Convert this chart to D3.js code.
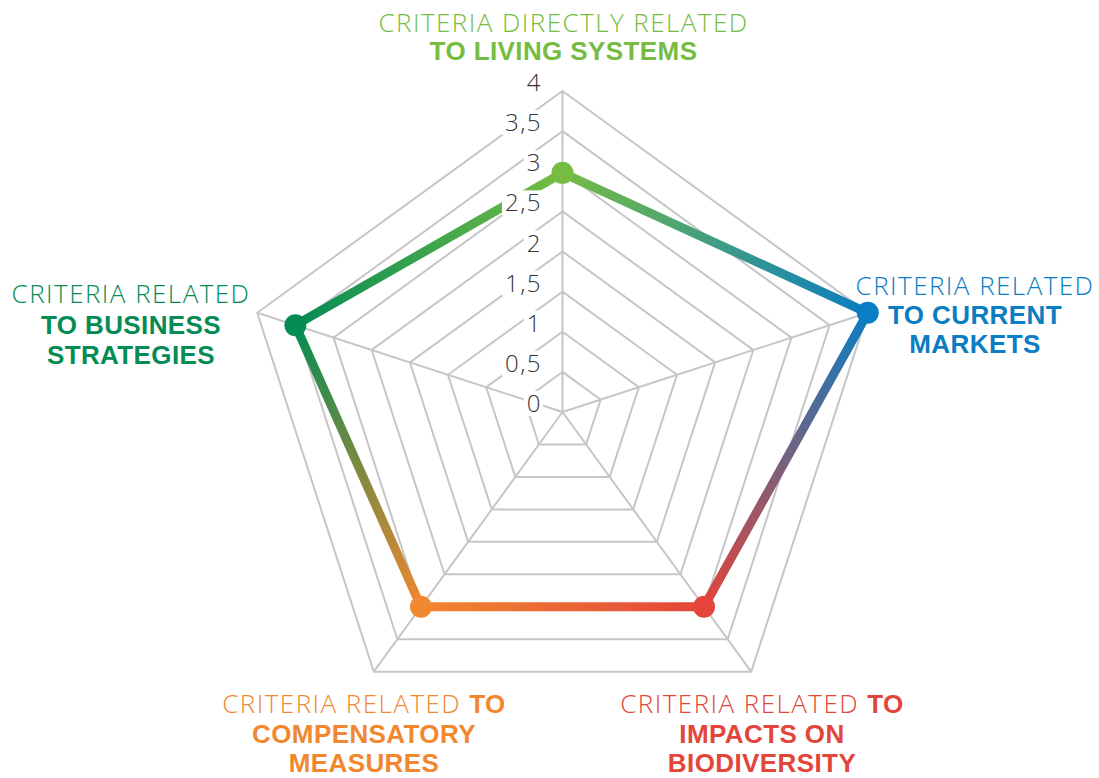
<!DOCTYPE html>
<html>
<head>
<meta charset="utf-8">
<script src="https://cdn.jsdelivr.net/npm/d3@7"></script>
<style>
  html, body { margin: 0; padding: 0; background: #fff; }
  svg { display: block; }
  text { font-family: "Open Sans", "Liberation Sans", sans-serif; }
  .bold { font-family: "Liberation Sans", Arial, sans-serif; }
</style>
</head>
<body>
<svg id="chart"></svg>
<script>
// chart data
const categories = ["living", "markets", "biodiversity", "compensatory", "business"];
const values = [2.98, 4, 3, 3, 3.5];
const colors = ["#76bc43", "#0a7dc3", "#e3453a", "#f1872f", "#058c55"];
const tickValues = [0, 0.5, 1, 1.5, 2, 2.5, 3, 3.5, 4];
const tickLabels = ["0", "0,5", "1", "1,5", "2", "2,5", "3", "3,5", "4"];
// label lines: [text, bold]
const labelLines = [
    [[["CRITERIA DIRECTLY RELATED", false]], [["TO LIVING SYSTEMS", true]]],
    [[["CRITERIA RELATED", false]], [["TO CURRENT", true]], [["MARKETS", true]]],
    [[["CRITERIA RELATED ", false], ["TO", true]], [["IMPACTS ON", true]], [["BIODIVERSITY", true]]],
    [[["CRITERIA RELATED ", false], ["TO", true]], [["COMPENSATORY", true]], [["MEASURES", true]]],
    [[["CRITERIA RELATED", false]], [["TO BUSINESS", true]], [["STRATEGIES", true]]]
];

const width = 1099, height = 778;
const cx = 562.5, cy = 412;
const labelPos = [
    {x: 563.5, y: 32, dy: 27.5},
    {x: 975, y: 295, dy: 29},
    {x: 762, y: 713, dy: 29.5},
    {x: 364, y: 713, dy: 29.5},
    {x: 131, y: 303, dy: 30.5}
];

const svg = d3.select("#chart")
    .attr("width", width)
    .attr("height", height);

const r = d3.scaleLinear().domain([0, 4]).range([0, 321]);
const angle = d3.scalePoint().domain(categories.concat(["_end"])).range([0, 2 * Math.PI]);

const pt = (cat, v) => {
    const a = angle(cat);
    return [cx + r(v) * Math.sin(a), cy - r(v) * Math.cos(a)];
};

const grid = svg.append("g")
    .attr("fill", "none")
    .attr("stroke", "#c6c6c8")
    .attr("stroke-width", 2);

// rings
tickValues.filter(t => t > 0).forEach(t => {
    grid.append("path")
        .attr("d", d3.line()(categories.map(c => pt(c, t))) + "Z");
});

// spokes
categories.forEach(c => {
    const p = pt(c, 4);
    grid.append("line")
        .attr("x1", cx).attr("y1", cy)
        .attr("x2", p[0]).attr("y2", p[1]);
});

// gradients per segment
const defs = svg.append("defs");
const pts = categories.map((c, i) => pt(c, values[i]));

categories.forEach((c, i) => {
    const j = (i + 1) % categories.length;
    const g = defs.append("linearGradient")
        .attr("id", "seg" + i)
        .attr("gradientUnits", "userSpaceOnUse")
        .attr("x1", pts[i][0]).attr("y1", pts[i][1])
        .attr("x2", pts[j][0]).attr("y2", pts[j][1]);
    g.append("stop").attr("offset", "0%").attr("stop-color", colors[i]);
    g.append("stop").attr("offset", "100%").attr("stop-color", colors[j]);

    svg.append("line")
        .attr("x1", pts[i][0]).attr("y1", pts[i][1])
        .attr("x2", pts[j][0]).attr("y2", pts[j][1])
        .attr("stroke", `url(#seg${i})`)
        .attr("stroke-width", 9)
        .attr("stroke-linecap", "round");
});

svg.selectAll("circle.dot")
    .data(categories)
    .join("circle")
        .attr("class", "dot")
        .attr("cx", (c, i) => pts[i][0])
        .attr("cy", (c, i) => pts[i][1])
        .attr("r", 11)
        .attr("fill", (c, i) => colors[i]);

// tick labels with white boxes
const ticks = svg.append("g");
tickValues.forEach((t, i) => {
    const g = ticks.append("g");
    const txt = g.append("text")
        .attr("x", cx - 20.5)
        .attr("y", cy - r(t))
        .attr("text-anchor", "end")
        .attr("font-size", 24)
        .attr("font-weight", 300)
        .attr("letter-spacing", 1.5)
        .attr("fill", "#333")
        .text(tickLabels[i]);
    const bb = txt.node().getBBox();
    g.insert("rect", "text")
        .attr("x", bb.x - 3)
        .attr("y", bb.y + 5)
        .attr("width", bb.width + 4)
        .attr("height", bb.height - 8)
        .attr("fill", "#fff");
});

// category labels
categories.forEach((c, i) => {
    const pos = labelPos[i];
    labelLines[i].forEach((line, k) => {
        const t = svg.append("text")
            .attr("x", pos.x)
            .attr("y", pos.y + k * pos.dy)
            .attr("text-anchor", "middle")
            .attr("fill", colors[i]);
        line.forEach(([s, bold]) => {
            t.append("tspan")
                .attr("class", bold ? "bold" : null)
                .attr("font-size", 26)
                .attr("font-weight", bold ? 700 : 300)
                .attr("letter-spacing", bold ? 0.4 : 1.45)
                .text(s);
        });
    });
});
</script>
</body>
</html>
